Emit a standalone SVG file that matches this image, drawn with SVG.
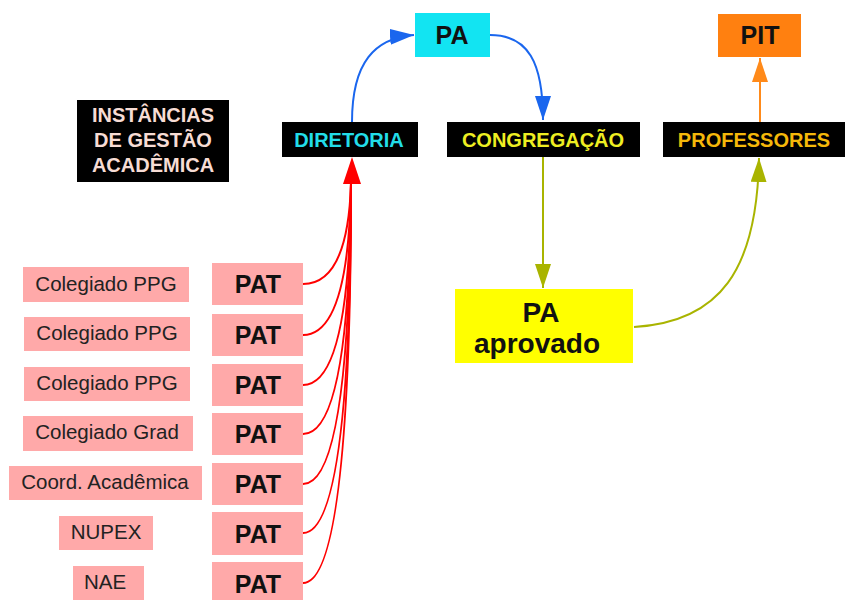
<svg xmlns="http://www.w3.org/2000/svg" width="851" height="600" viewBox="0 0 851 600">
<style>
text{font-family:"Liberation Sans",Arial,sans-serif}
.blk{fill:#000}
.hd{font-size:20px;font-weight:bold;text-anchor:middle}
.pink{fill:#ffa9a9}
.lbl{font-size:20.5px;fill:#222;text-anchor:middle}
.pat{font-size:25px;font-weight:bold;fill:#111;text-anchor:middle}
.big{font-size:28px;font-weight:bold;fill:#111;text-anchor:middle}
.red{fill:none;stroke:#ff0000;stroke-width:2}
</style>
<defs>
<marker id="mBlue" markerWidth="26" markerHeight="16" refX="24" refY="8" orient="auto" markerUnits="userSpaceOnUse"><path d="M0,0 L24,8 L0,16 Z" fill="#1a66ee"/></marker>
<marker id="mOlive" markerWidth="26" markerHeight="16" refX="24" refY="8" orient="auto" markerUnits="userSpaceOnUse"><path d="M0,0 L24,8 L0,16 Z" fill="#a9b400"/></marker>
<marker id="mOrange" markerWidth="26" markerHeight="16" refX="24" refY="8" orient="auto" markerUnits="userSpaceOnUse"><path d="M0,0 L24,8 L0,16 Z" fill="#ff8a1a"/></marker>
</defs>
<rect width="851" height="600" fill="#fff"/>

<g id="title">
<rect class="blk" x="77" y="100" width="152" height="82"/>
<text class="hd" fill="#f7dcd4" x="153" y="122">INSTÂNCIAS</text>
<text class="hd" fill="#f7dcd4" x="153" y="147">DE GESTÃO</text>
<text class="hd" fill="#f7dcd4" x="153" y="172">ACADÊMICA</text>
</g>

<g id="diretoria">
<rect class="blk" x="282" y="122" width="136" height="35"/>
<text class="hd" fill="#22dde8" x="349" y="147">DIRETORIA</text>
</g>
<g id="congregacao">
<rect class="blk" x="447" y="122" width="193" height="35"/>
<text class="hd" fill="#eeee22" x="543" y="147">CONGREGAÇÃO</text>
</g>
<g id="professores">
<rect class="blk" x="663" y="122" width="182" height="35"/>
<text class="hd" fill="#f5b80a" x="754" y="147">PROFESSORES</text>
</g>
<g id="pa">
<rect x="415" y="13" width="75" height="44" fill="#12e4f2"/>
<text class="pat" x="452" y="44">PA</text>
</g>
<g id="pit">
<rect x="718" y="14" width="83" height="43" fill="#ff8010"/>
<text class="pat" x="760" y="44">PIT</text>
</g>
<g id="pa-aprovado">
<rect x="455" y="289" width="178" height="74" fill="#ffff00"/>
<text class="big" x="541" y="322">PA</text>
<text class="big" x="537" y="353">aprovado</text>
</g>

<g id="instancias">
<rect class="pink" x="23" y="267" width="166" height="35"/>
<text class="lbl" x="106" y="291">Colegiado PPG</text>
<rect class="pink" x="24" y="317" width="166" height="34"/>
<text class="lbl" x="107" y="340">Colegiado PPG</text>
<rect class="pink" x="24" y="367" width="166" height="34"/>
<text class="lbl" x="107" y="390">Colegiado PPG</text>
<rect class="pink" x="23" y="416" width="170" height="35"/>
<text class="lbl" x="107" y="439">Colegiado Grad</text>
<rect class="pink" x="9" y="466" width="193" height="34"/>
<text class="lbl" x="105" y="489">Coord. Acadêmica</text>
<rect class="pink" x="59" y="516" width="94" height="34"/>
<text class="lbl" x="106" y="539">NUPEX</text>
<rect class="pink" x="73" y="566" width="71" height="34"/>
<text class="lbl" x="105" y="589">NAE</text>
</g>

<g id="pats">
<rect class="pink" x="212" y="263" width="91" height="42"/>
<text class="pat" x="258" y="293">PAT</text>
<rect class="pink" x="212" y="314" width="91" height="42"/>
<text class="pat" x="258" y="344">PAT</text>
<rect class="pink" x="212" y="364" width="91" height="42"/>
<text class="pat" x="258" y="394">PAT</text>
<rect class="pink" x="212" y="413" width="91" height="42"/>
<text class="pat" x="258" y="443">PAT</text>
<rect class="pink" x="212" y="463" width="91" height="42"/>
<text class="pat" x="258" y="493">PAT</text>
<rect class="pink" x="212" y="512" width="91" height="43"/>
<text class="pat" x="258" y="543">PAT</text>
<rect class="pink" x="212" y="562" width="91" height="38"/>
<text class="pat" x="258" y="593">PAT</text>
</g>

<g id="connectors">
<path class="red" d="M303,284 Q348,284 351,183"/>
<path class="red" d="M303,335 Q349,335 351,183"/>
<path class="red" d="M303,385 Q350,385 351,183"/>
<path class="red" d="M303,434 Q350,434 351,183"/>
<path class="red" d="M303,484 Q350,484 351,183"/>
<path class="red" d="M303,533 Q351,533 351,183"/>
<path class="red" d="M303,583 Q351,583 351,183"/>
<path d="M343,184 L352,157 L361,184 Z" fill="#ff0000"/>
<path d="M352,122 C352,62 375,38 414,35" fill="none" stroke="#1a66ee" stroke-width="2" marker-end="url(#mBlue)"/>
<path d="M490,35 C528,35 543,62 543,120" fill="none" stroke="#1a66ee" stroke-width="2" marker-end="url(#mBlue)"/>
<path d="M543,157 L543,288" fill="none" stroke="#a9b400" stroke-width="2" marker-end="url(#mOlive)"/>
<path d="M634,327 C720,322 757,270 759,158" fill="none" stroke="#a9b400" stroke-width="2" marker-end="url(#mOlive)"/>
<path d="M760,122 L760,58" fill="none" stroke="#ff8a1a" stroke-width="2" marker-end="url(#mOrange)"/>
</g>
</svg>
